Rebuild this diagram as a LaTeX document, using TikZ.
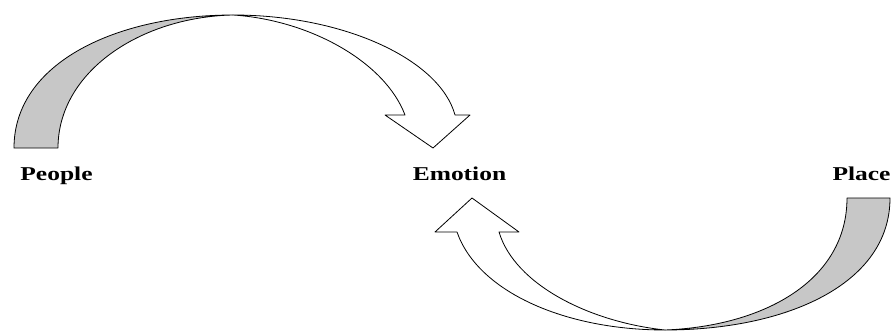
\documentclass[tikz,border=0pt]{standalone}
\usepackage{fontspec}
\usepackage{graphicx}
\setmainfont{Liberation Serif}
\tikzset{
  lbl/.style={anchor=base, inner sep=0pt, font=\bfseries\fontsize{19.6}{20}\selectfont},
  shade/.style={fill=black!22, draw=black, line width=0.8pt, line join=round},
  blank/.style={fill=white, draw=black, line width=0.8pt, line join=round}
}
\begin{document}
\begin{tikzpicture}[x=1pt,y=-1pt]
\useasboundingbox (0,0) rectangle (891,332);
% labels
\node[lbl] (people) at (56.5,180) {\scalebox{1.3}[1]{People}};
\node[lbl] (emotion) at (459.5,180) {\scalebox{1.3}[1]{Emotion}};
\node[lbl] (place) at (861.5,180) {\scalebox{1.3}[1]{Place}};
% top arrow: People -> Emotion
\coordinate (tapex) at (233,15);
\path[shade] (14,148) .. controls (14,62) and (118,15) .. (tapex)
  .. controls (140,17) and (58,72) .. (58,148) -- cycle;
\path[blank] (tapex) .. controls (345,15) and (440,60) .. (455,115)
  -- (470,115) -- (433,148) -- (385,115) -- (405,115)
  .. controls (385,62) and (310,20) .. (tapex) -- cycle;
% bottom arrow: Place -> Emotion
\coordinate (bapex) at (665,330);
\path[shade] (890,198) .. controls (890,285) and (785,330) .. (bapex)
  .. controls (765,326) and (847,280) .. (847,198) -- cycle;
\path[blank] (bapex) .. controls (565,330) and (478,292) .. (457,232)
  -- (435,232) -- (472,198) -- (519,232) -- (499,232)
  .. controls (515,285) and (590,322) .. (bapex) -- cycle;
\end{tikzpicture}
\end{document}
